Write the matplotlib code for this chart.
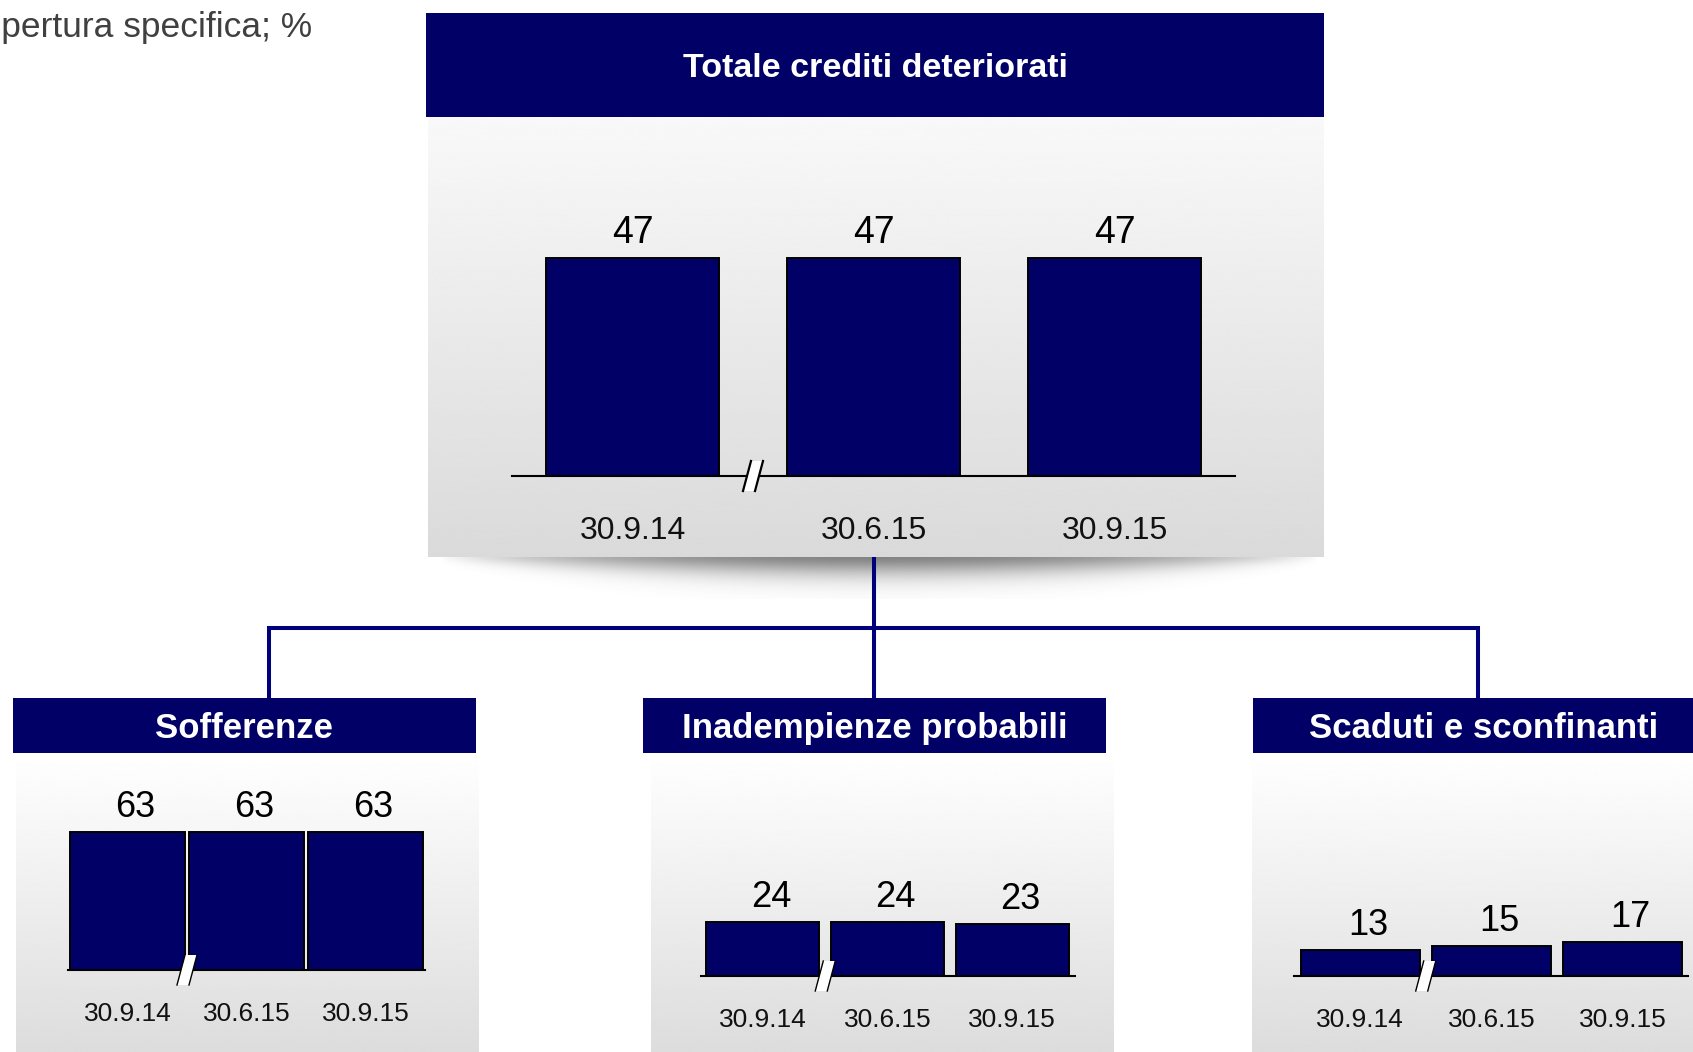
import numpy as np
import matplotlib
matplotlib.use("Agg")
import matplotlib.pyplot as plt
from matplotlib.patches import Rectangle, Polygon
from matplotlib.lines import Line2D
from matplotlib.transforms import ScaledTranslation

plt.rcParams['font.family'] = ['Liberation Sans', 'DejaVu Sans']

# ---- data -----------------------------------------------------------------
dates = ["30.9.14", "30.6.15", "30.9.15"]
totale = [47, 47, 47]
sofferenze = [63, 63, 63]
inadempienze = [24, 24, 23]
scaduti = [13, 15, 17]

title_main = "Totale crediti deteriorati"
panel_titles = ["Sofferenze", "Inadempienze probabili", "Scaduti e sconfinanti"]
subtitle = "Copertura specifica; %"

# ---- canvas (pixel coordinates, origin top-left) -----------------------------
W, H = 1693, 1052
NAVY = "#000066"
LINK = "#00007a"

fig = plt.figure(figsize=(W / 100, H / 100), dpi=100)
bg = fig.add_axes([0, 0, 1, 1])
bg.axis('off')


def gradient_panel(x0, x1, y0, y1, c_top, c_bot):
    g = np.linspace(c_top, c_bot, 256).reshape(-1, 1)
    bg.imshow(g, cmap='gray', vmin=0, vmax=1, extent=(x0, x1, y1, y0),
              aspect='auto', interpolation='bicubic', zorder=1)


# soft drop shadow beneath the main panel
def shadow(x0, x1, y0, depth):
    xs = np.linspace(-1, 1, 500)
    ys = np.linspace(0, 1, 80)
    reach = 0.25 + 0.75 * (1 - xs ** 2)
    fade_x = np.clip(1 - xs ** 2, 0, 1) ** 0.8
    alpha = 0.72 * np.exp(-(ys[:, None] / (0.45 * reach[None, :])) ** 1.6) * fade_x[None, :]
    img = np.zeros((ys.size, xs.size, 4))
    img[..., :3] = 0.33
    img[..., 3] = alpha
    bg.imshow(img, extent=(x0, x1, y0 + depth, y0), aspect='auto',
              interpolation='bilinear', zorder=1.5)


# main panel
gradient_panel(428, 1324, 117, 557, 0.975, 0.855)
shadow(440, 1318, 557, 42)
bg.add_patch(Rectangle((426, 13), 1324 - 426, 117 - 13, fc=NAVY, ec='none', zorder=2))
bg.text(875, 77, title_main, color='white', fontsize=24.5, fontweight='bold',
        ha='center', va='baseline', zorder=3)

# three sub panels
sub_boxes = [(13, 476, 16, 479), (643, 1106, 651, 1114), (1253, 1714, 1252, 1714)]
sub_text_x = [244.5, 874.5, 1483.5]
for (hx0, hx1, px0, px1), name, tx in zip(sub_boxes, panel_titles, sub_text_x):
    gradient_panel(px0, px1, 753, H, 1.0, 0.865)
    bg.add_patch(Rectangle((hx0, 698), hx1 - hx0, 753 - 698, fc=NAVY, ec='none', zorder=2))
    bg.text(tx, 738, name, color='white', fontsize=25, fontweight='bold',
            ha='center', va='baseline', zorder=3)

# connector tree
bg.add_line(Line2D([874, 874], [557, 698], color=LINK, lw=2.9,
                   solid_capstyle='butt', zorder=3))
bg.add_line(Line2D([269, 269, 1478, 1478], [698, 628, 628, 698], color=LINK, lw=2.9,
                   solid_capstyle='butt', solid_joinstyle='miter', zorder=3))

# unit label
bg.text(312, 37, subtitle, color='#404040', fontsize=25.5, ha='right', va='baseline')

bg.set_xlim(0, W)
bg.set_ylim(H, 0)


def bar_panel(left, baseline, axw, values, width, scale, fs_val, fs_date,
              label_dx, date_gap, break_lw):
    top_val = max(values) * 1.5
    hpx = top_val * scale
    ax = fig.add_axes([left / W, (H - baseline) / H, axw / W, hpx / H])
    ax.set_xlim(-0.5, 2.5)
    ax.set_ylim(0, top_val)
    ax.patch.set_alpha(0)
    for s in ['top', 'right', 'left']:
        ax.spines[s].set_visible(False)
    ax.spines['bottom'].set_linewidth(1.5)
    ax.spines['bottom'].set_color('black')
    ax.set_xticks([])
    ax.set_yticks([])
    x = np.arange(len(values))
    ax.bar(x, values, width=width, color=NAVY, edgecolor='black', linewidth=1.4,
           clip_on=False, zorder=2)
    for xi, v in zip(x, values):
        ax.annotate(str(v), (xi, v), xytext=(label_dx, 15), textcoords='offset pixels',
                    ha='center', va='baseline', fontsize=fs_val, color='black')
    for xi, d in zip(x, dates):
        ax.annotate(d, (xi, 0), xytext=(0, -date_gap), textcoords='offset pixels',
                    ha='center', va='baseline', fontsize=fs_date, color='#111111')
    # axis break between the first and second period
    tr = fig.dpi_scale_trans + ScaledTranslation(0.5, 0, ax.transData)
    pts = np.array([(-10, -15), (2, -15), (10, 15), (-2, 15)]) / 100.0
    ax.add_patch(Polygon(pts, closed=True, fc='white', ec='none', transform=tr,
                         clip_on=False, zorder=4))
    for a, b in [(pts[0], pts[3]), (pts[1], pts[2])]:
        ax.add_line(Line2D([a[0], b[0]], [a[1], b[1]], color='black', lw=break_lw,
                           transform=tr, clip_on=False, zorder=5))
    return ax


bar_panel(512, 476, 723, totale, 0.72, 4.64, 27, 23, 0, 63, 1.6)
bar_panel(68, 970, 357, sofferenze, 0.966, 2.19, 26, 19, 8, 51, 1.0)
bar_panel(700.6, 976, 374, inadempienze, 0.906, 2.25, 26, 19, 8, 51, 1.0)
bar_panel(1294.4, 976, 394, scaduti, 0.906, 1.98, 26, 19, 8, 51, 1.0)

fig.savefig("out.png", dpi=100)
